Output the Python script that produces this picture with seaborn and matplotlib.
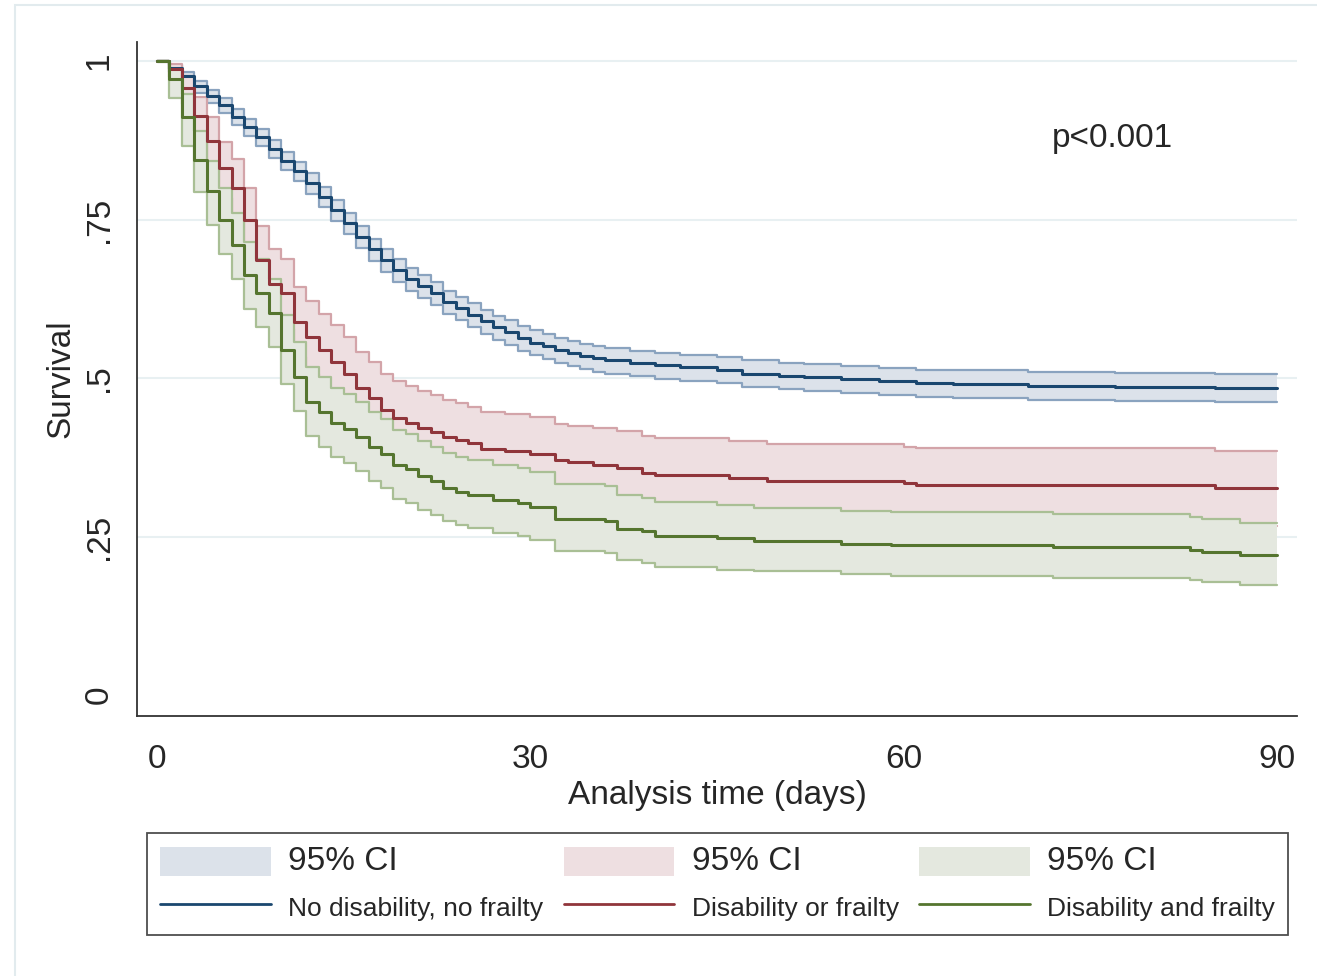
import numpy as np
import pandas as pd
import matplotlib
matplotlib.use("Agg")
import matplotlib.pyplot as plt
from matplotlib.patches import Patch, Rectangle
from matplotlib.lines import Line2D
import seaborn as sns

# ---------------- data ----------------
END_DAY = 90

t_blue = [0, 1, 2, 3, 4, 5, 6, 7, 8, 9, 10, 11, 12, 13, 14, 15, 16, 17, 18, 19, 20,
          21, 22, 23, 24, 25, 26, 27, 28, 29, 30, 31, 32, 33, 34, 35, 36, 38, 40, 42,
          45, 47, 50, 52, 55, 58, 61, 64, 70, 77, 85]
s_blue = [1.0, 0.989, 0.976, 0.960, 0.945, 0.930, 0.912, 0.896, 0.880, 0.862, 0.843,
          0.826, 0.808, 0.786, 0.765, 0.745, 0.723, 0.703, 0.686, 0.670, 0.656, 0.645,
          0.634, 0.620, 0.610, 0.600, 0.590, 0.580, 0.572, 0.563, 0.556, 0.550, 0.544,
          0.539, 0.535, 0.531, 0.528, 0.524, 0.520, 0.517, 0.513, 0.507, 0.503, 0.501,
          0.498, 0.495, 0.492, 0.491, 0.487, 0.486, 0.485]
up_blue = [1.0, 0.994, 0.983, 0.969, 0.955, 0.941, 0.924, 0.909, 0.893, 0.876, 0.857,
           0.841, 0.823, 0.802, 0.781, 0.761, 0.740, 0.720, 0.703, 0.687, 0.673, 0.663,
           0.652, 0.638, 0.628, 0.618, 0.608, 0.598, 0.591, 0.582, 0.575, 0.569, 0.563,
           0.558, 0.554, 0.550, 0.547, 0.543, 0.540, 0.537, 0.533, 0.528, 0.524, 0.522,
           0.519, 0.516, 0.513, 0.512, 0.509, 0.508, 0.507]
lo_blue = [1.0, 0.983, 0.968, 0.950, 0.934, 0.918, 0.899, 0.882, 0.866, 0.847, 0.828,
           0.810, 0.791, 0.769, 0.747, 0.727, 0.705, 0.685, 0.667, 0.651, 0.637, 0.626,
           0.615, 0.601, 0.591, 0.580, 0.570, 0.560, 0.552, 0.543, 0.536, 0.530, 0.524,
           0.519, 0.514, 0.510, 0.507, 0.503, 0.499, 0.496, 0.492, 0.486, 0.482, 0.479,
           0.476, 0.473, 0.470, 0.469, 0.465, 0.464, 0.463]

t_red = [0, 1, 2, 3, 4, 5, 6, 7, 8, 9, 10, 11, 12, 13, 14, 15, 16, 17, 18, 19, 20,
         21, 22, 23, 24, 25, 26, 28, 30, 32, 33, 35, 37, 39, 40, 46, 49, 60, 61, 85]
s_red = [1.0, 0.987, 0.957, 0.914, 0.874, 0.831, 0.799, 0.749, 0.686, 0.649, 0.634,
         0.589, 0.565, 0.544, 0.526, 0.507, 0.484, 0.468, 0.450, 0.437, 0.429, 0.421,
         0.415, 0.407, 0.402, 0.397, 0.388, 0.385, 0.381, 0.370, 0.367, 0.363, 0.358,
         0.350, 0.347, 0.342, 0.338, 0.334, 0.331, 0.327]
up_red = [1.0, 0.995, 0.977, 0.944, 0.911, 0.873, 0.845, 0.799, 0.740, 0.703, 0.688,
          0.644, 0.622, 0.601, 0.583, 0.564, 0.541, 0.525, 0.507, 0.495, 0.487, 0.479,
          0.473, 0.465, 0.460, 0.455, 0.446, 0.443, 0.439, 0.428, 0.425, 0.421, 0.416,
          0.408, 0.405, 0.400, 0.396, 0.392, 0.389, 0.385]
lo_red = [1.0, 0.975, 0.932, 0.879, 0.832, 0.784, 0.749, 0.696, 0.630, 0.593, 0.578,
          0.533, 0.507, 0.486, 0.468, 0.449, 0.426, 0.410, 0.392, 0.379, 0.369, 0.361,
          0.355, 0.347, 0.342, 0.337, 0.328, 0.325, 0.321, 0.310, 0.307, 0.303, 0.298,
          0.290, 0.287, 0.282, 0.278, 0.274, 0.271, 0.267]

t_green = [0, 1, 2, 3, 4, 5, 6, 7, 8, 9, 10, 11, 12, 13, 14, 15, 16, 17, 18, 19, 20,
           21, 22, 23, 24, 25, 27, 29, 30, 32, 36, 37, 39, 40, 45, 48, 55, 59, 72, 83,
           84, 87]
s_green = [1.0, 0.971, 0.911, 0.844, 0.795, 0.749, 0.710, 0.662, 0.634, 0.602, 0.544,
           0.502, 0.463, 0.446, 0.429, 0.420, 0.407, 0.392, 0.380, 0.363, 0.357, 0.345,
           0.337, 0.327, 0.320, 0.316, 0.308, 0.303, 0.296, 0.278, 0.274, 0.262, 0.258,
           0.251, 0.247, 0.243, 0.239, 0.236, 0.233, 0.229, 0.226, 0.221]
up_green = [1.0, 0.988, 0.948, 0.889, 0.843, 0.799, 0.761, 0.714, 0.687, 0.656, 0.599,
            0.557, 0.518, 0.501, 0.484, 0.475, 0.462, 0.447, 0.435, 0.418, 0.412, 0.400,
            0.392, 0.382, 0.375, 0.371, 0.363, 0.358, 0.352, 0.333, 0.329, 0.316, 0.311,
            0.304, 0.300, 0.295, 0.291, 0.288, 0.285, 0.281, 0.277, 0.272]
lo_green = [1.0, 0.942, 0.866, 0.794, 0.742, 0.696, 0.657, 0.609, 0.581, 0.549, 0.490,
            0.448, 0.409, 0.392, 0.375, 0.366, 0.353, 0.338, 0.326, 0.309, 0.303, 0.292,
            0.284, 0.275, 0.268, 0.264, 0.256, 0.251, 0.245, 0.228, 0.224, 0.213, 0.209,
            0.202, 0.198, 0.195, 0.191, 0.188, 0.184, 0.181, 0.178, 0.174]

group_labels = ["No disability, no frailty", "Disability or frailty", "Disability and frailty"]
ci_label = "95% CI"
x_ticks = [0, 30, 60, 90]
y_ticks = [0, 0.25, 0.5, 0.75, 1]
y_tick_labels = ["0", ".25", ".5", ".75", "1"]
p_text = "p<0.001"

# ---------------- style ----------------
sns.set_style("white")
plt.rcParams["font.family"] = ["Liberation Sans", "DejaVu Sans"]

line_colors = ["#1a476f", "#90353b", "#55752f"]
fill_colors = ["#dce2ea", "#eedfe1", "#e4e8df"]
edge_colors = ["#8aa3bf", "#d3a4a9", "#a9bf95"]

fig = plt.figure(figsize=(13.17, 9.76), dpi=100)
ax = fig.add_axes([137 / 1317, 1 - 716 / 976, (1297 - 137) / 1317, (716 - 42) / 976])

groups = [
    (t_blue, s_blue, lo_blue, up_blue),
    (t_red, s_red, lo_red, up_red),
    (t_green, s_green, lo_green, up_green),
]

def extend(t, v):
    return list(t) + [END_DAY], list(v) + [v[-1]]

# CI areas first (drawn in order, opaque)
for i, (t, s, lo, up) in enumerate(groups):
    tt, ll = extend(t, lo)
    _, uu = extend(t, up)
    ax.fill_between(tt, ll, uu, step="post", color=fill_colors[i], lw=0, zorder=2 + i)
    ax.step(tt, uu, where="post", color=edge_colors[i], lw=1.6, zorder=2.5 + i)
    ax.step(tt, ll, where="post", color=edge_colors[i], lw=1.6, zorder=2.5 + i)

# survival lines on top
for i, (t, s, lo, up) in enumerate(groups):
    tt, ss = extend(t, s)
    df = pd.DataFrame({"t": tt, "s": ss})
    sns.lineplot(data=df, x="t", y="s", ax=ax, color=line_colors[i], lw=2.2,
                 drawstyle="steps-post", estimator=None, sort=False, zorder=10 + i)

# axes
ax.set_xlim(-1.6, 91.6)
ax.set_ylim(-0.033, 1.03)
ax.set_xticks(x_ticks)
ax.set_xticklabels([str(v) for v in x_ticks], fontsize=24)
ax.set_yticks(y_ticks)
ax.set_yticklabels(y_tick_labels, fontsize=24, rotation=90, va="center")
for yv in y_ticks[1:]:
    ax.axhline(yv, color="#e8f0f2", lw=1.5, zorder=1)
ax.tick_params(axis="x", direction="out", length=9, width=1.3, color="#333333", pad=11)
ax.tick_params(axis="y", direction="out", length=11, width=1.3, color="#333333", pad=5)
for side in ["top", "right"]:
    ax.spines[side].set_visible(False)
for side in ["left", "bottom"]:
    ax.spines[side].set_color("#333333")
    ax.spines[side].set_linewidth(1.3)
ax.set_xlabel("Analysis time (days)", fontsize=24, labelpad=4)
ax.set_ylabel("Survival", fontsize=24, labelpad=5)
ax.text(76.8, 0.878, p_text, fontsize=24, ha="center", va="center")

# legend
handles = []
labels = []
for i in range(3):
    handles.append(Patch(facecolor=fill_colors[i], edgecolor="none"))
    labels.append(ci_label)
    handles.append(Line2D([0], [0], color=line_colors[i], lw=2.0))
    labels.append(group_labels[i])
leg = fig.legend(handles, labels, ncol=3, loc="center",
                 bbox_to_anchor=((148 + 1287) / 2 / 1317, 1 - 884 / 976),
                 frameon=True, fancybox=False, edgecolor="#222222",
                 fontsize=19, handlelength=4.2, handleheight=1.35, handletextpad=0.65,
                 columnspacing=0.78, labelspacing=0.55, borderpad=0.5, borderaxespad=0)
leg.get_frame().set_linewidth(1.3)
for j, txt in enumerate(leg.get_texts()):
    if j % 2 == 0:
        txt.set_fontsize(24)

# faint outer frame
fig.patches.append(Rectangle((15 / 1317, -0.2), 2.0, 1.2 - 5 / 976, transform=fig.transFigure,
                             fill=False, edgecolor="#e2ebee", lw=1.5))

fig.savefig("out.png", dpi=100, facecolor="white")
